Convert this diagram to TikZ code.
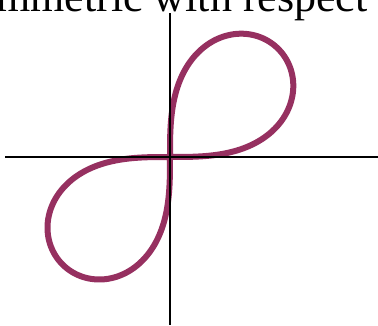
\documentclass[tikz,border=0pt]{standalone}
\usepackage{fontspec}
\setmainfont{Liberation Serif}
\definecolor{curvecol}{RGB}{150,48,96}
\begin{document}
\begin{tikzpicture}[x=1pt,y=1pt,
  axis/.style={draw=black,line width=1.6pt},
  curve/.style={draw=curvecol,line width=6pt,line join=round,line cap=round},
  caption/.style={font=\fontsize{44}{46}\selectfont,inner sep=0pt,anchor=base west}]
\useasboundingbox (0,0) rectangle (378,325);
\clip (0,0) rectangle (378,325);
\node[caption] (cap) at (-4,314) {mmetric with respect};
\coordinate (O) at (170,168);
\coordinate (xl) at (5,168);
\coordinate (xr) at (378,168);
\coordinate (yt) at (170,312);
\coordinate (yb) at (170,0);
\draw[curve,shift={(O)}] plot[domain=0:90,samples=240,smooth]
  ({153*sqrt(abs(sin(2*\x)))*cos(\x)},{153*sqrt(abs(sin(2*\x)))*sin(\x)});
\draw[curve,shift={(O)}] plot[domain=180:270,samples=240,smooth]
  ({152*sqrt(abs(sin(2*\x)))*cos(\x)},{152*sqrt(abs(sin(2*\x)))*sin(\x)});
\draw[axis] (xl) -- (xr);
\draw[axis] (yt) -- (yb);
\end{tikzpicture}
\end{document}
